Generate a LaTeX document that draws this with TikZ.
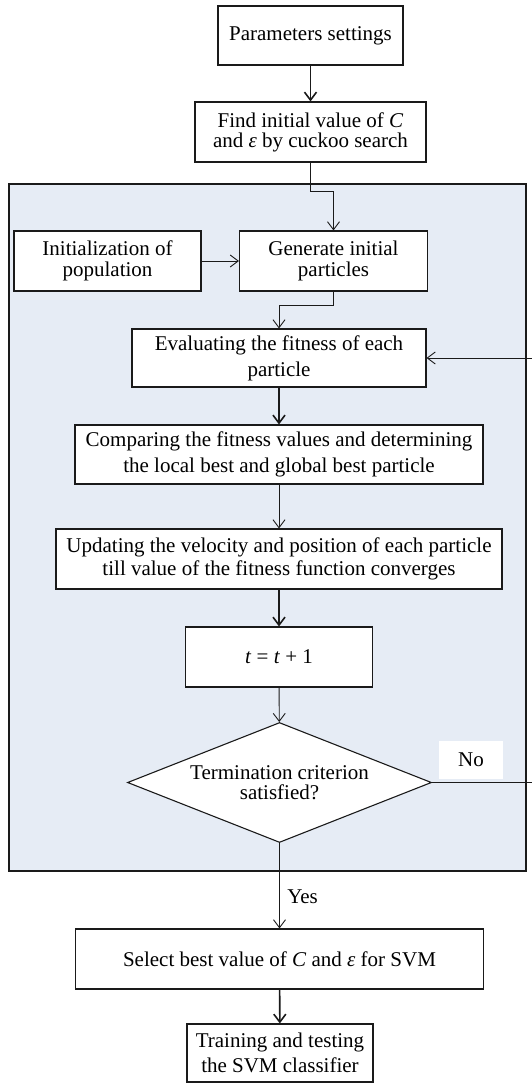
\documentclass[tikz,border=0pt]{standalone}
\usepackage{fontspec}
\setmainfont{Liberation Serif}
\usetikzlibrary{arrows.meta,shapes.geometric}
\definecolor{bgblue}{HTML}{E6ECF5}
\definecolor{edge}{HTML}{1A1A1A}
\newcommand{\fs}[1]{\fontsize{21}{#1}\selectfont}
\begin{document}
\begin{tikzpicture}[x=1pt,y=-1pt,
  stepbox/.style={draw=edge, fill=white, line width=1.1pt, minimum height=60pt,
    inner sep=1pt, align=center, font=\fs{22}},
  decision/.style={draw=edge, fill=white, line width=1.1pt, shape=diamond,
    shape aspect=2.5, minimum width=304pt, minimum height=120pt, inner sep=0pt,
    align=center, font=\fs{19.5}},
  lbl/.style={font=\fs{22}},
  arr/.style={draw=edge, line width=0.9pt, -{Straight Barb[length=8pt,width=12pt]}},
  arrthick/.style={arr, line width=1.6pt},
  region/.style={draw=edge, fill=bgblue, line width=1.5pt}]
\useasboundingbox (0,0) rectangle (532,1084);

% background region
\path[region] (9,184) rectangle (526,871);

% nodes
\node[stepbox, minimum width=185pt, minimum height=59pt] (par) at (310.5,35.5) {Parameters settings};
\node[stepbox, minimum width=231pt, font=\fs{20}] (find) at (310.5,132) {Find initial value of \textit{C}\\and \textit{ε} by cuckoo search};
\node[stepbox, minimum width=187pt, font=\fs{21}] (init) at (107.5,261) {Initialization of\\population};
\node[stepbox, minimum width=188pt, font=\fs{21}] (gen) at (333.5,261) {Generate initial\\particles};
\node[stepbox, minimum width=294pt, minimum height=58pt, font=\fs{26}] (eval) at (279,358) {Evaluating the fitness of each\\particle};
\node[stepbox, minimum width=408pt, minimum height=59pt, font=\fs{26}] (comp) at (279,454.5) {Comparing the fitness values and determining\\the local best and global best particle};
\node[stepbox, minimum width=446pt, font=\fs{23}] (upd) at (279,559) {Updating the velocity and position of each particle\\till value of the fitness function converges};
\node[stepbox, minimum width=187pt] (tt) at (279,657) {\textit{t} = \textit{t} + 1};
\node[decision] (dec) at (279.5,782.5) {Termination criterion\\satisfied?};
\node[lbl, fill=white, minimum width=64pt, minimum height=38pt, inner sep=0pt] (no) at (471,760) {No};
\node[stepbox, minimum width=408pt] (sel) at (279.5,959) {Select best value of \textit{C} and \textit{ε} for SVM};
\node[stepbox, minimum width=186pt, minimum height=58pt, font=\fs{25}] (train) at (280,1053) {Training and testing\\the SVM classifier};

% connectors
\coordinate (fj1) at (310.5,191);
\coordinate (fj2) at (333.5,191);
\coordinate (gj1) at (333.5,305);
\coordinate (gj2) at (279,305);
\coordinate (loopR) at (537,782.5);
\coordinate (loopT) at (537,358);

\draw[arrthick] (par) -- (find);
\draw[arr] (find.south) -- (fj1) -- (fj2) -- (gen.north);
\draw[arr] (init) -- (gen);
\draw[arr] (gen.south) -- (gj1) -- (gj2) -- (eval.north);
\draw[arrthick] (eval) -- (comp);
\draw[arr] (comp) -- (upd);
\draw[arrthick] (upd) -- (tt);
\draw[arr] (tt) -- (dec);
\draw[arr] (dec.east) -- (loopR) -- (loopT) -- (eval.east);
\draw[arr] (dec.south) -- node[lbl, right=4pt, pos=0.63] (yes) {Yes} (sel.north);
\draw[arrthick] (sel) -- (train);
\end{tikzpicture}
\end{document}
